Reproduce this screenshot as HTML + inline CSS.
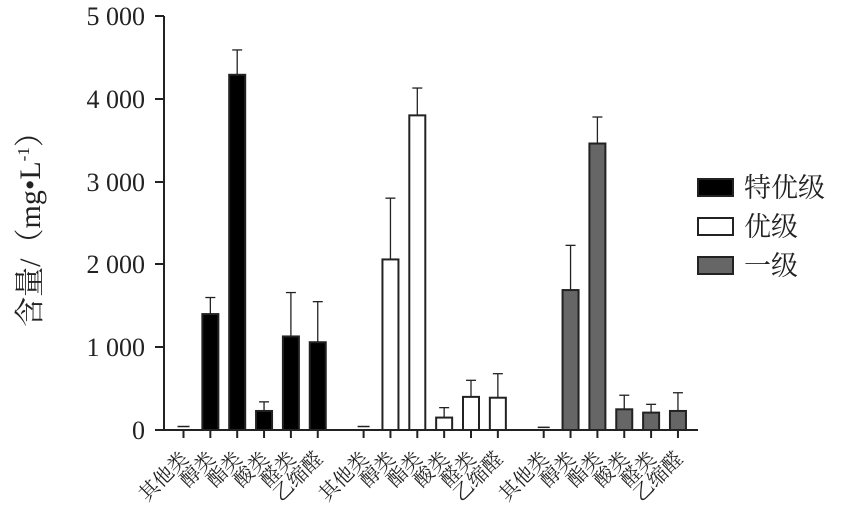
<!DOCTYPE html>
<html><head><meta charset="utf-8"><style>
body{margin:0;background:#fff}
svg{display:block}
text{font-family:"Liberation Serif","Noto Serif CJK SC",serif;fill:#222}
</style></head><body>
<svg id="s" width="847" height="514" viewBox="0 0 847 514" xmlns="http://www.w3.org/2000/svg">
<g stroke="#222" stroke-width="2" fill="none">
<line x1="164" y1="16" x2="164" y2="431"/>
<line x1="163" y1="430" x2="698" y2="430"/>
<line x1="155" y1="16" x2="164" y2="16"/>
<line x1="155" y1="99" x2="164" y2="99"/>
<line x1="155" y1="182" x2="164" y2="182"/>
<line x1="155" y1="264" x2="164" y2="264"/>
<line x1="155" y1="347" x2="164" y2="347"/>
<line x1="155" y1="430" x2="164" y2="430"/>
</g>
<g font-size="26" text-anchor="end">
<text x="145" y="25">5 000</text>
<text x="145" y="108">4 000</text>
<text x="145" y="191">3 000</text>
<text x="145" y="273">2 000</text>
<text x="145" y="356">1 000</text>
<text x="145" y="439">0</text>
</g>
<text transform="translate(40,222) rotate(-90)" font-size="30" text-anchor="middle">含量/（mg•L<tspan font-size="17" dy="-11">-1</tspan><tspan dy="11">）</tspan></text>
<g id="bars"></g>
<g font-size="27">
<rect x="698" y="179" width="35" height="17" fill="#000" stroke="#222" stroke-width="2"/>
<text x="744" y="197">特优级</text>
<rect x="698" y="218" width="35" height="17" fill="#fff" stroke="#222" stroke-width="2"/>
<text x="744" y="236">优级</text>
<rect x="698" y="257" width="35" height="17" fill="#666" stroke="#222" stroke-width="2"/>
<text x="744" y="275">一级</text>
</g>
</svg>
<script>
var g=document.getElementById('bars');
var labels=["其他类","醇类","酯类","酸类","醛类","乙缩醛"];
var groups=[
 {x0:183.5,fill:"#000",v:[30,1400,4290,230,1130,1060],e:[30,1600,4590,340,1660,1550]},
 {x0:363.6,fill:"#fff",v:[30,2060,3800,150,400,390],e:[30,2800,4130,270,600,680]},
 {x0:543.7,fill:"#666",v:[20,1690,3460,250,210,230],e:[20,2230,3780,420,310,450]}];
function y(v){return 430-v*0.0828;}
var h="";
groups.forEach(function(G){
 for(var i=0;i<6;i++){
  var x=G.x0+i*26.85,yt=y(G.v[i]),ye=y(G.e[i]);
  if(G.v[i]>50){
   h+='<line x1="'+x+'" y1="'+ye+'" x2="'+x+'" y2="'+yt+'" stroke="#222" stroke-width="1.3"/>';
   h+='<line x1="'+(x-5)+'" y1="'+ye+'" x2="'+(x+5)+'" y2="'+ye+'" stroke="#222" stroke-width="1.3"/>';
   h+='<rect x="'+(x-8)+'" y="'+yt+'" width="16" height="'+(430-yt)+'" fill="'+G.fill+'" stroke="#222" stroke-width="2"/>';
  } else {
   h+='<line x1="'+(x-6)+'" y1="'+(yt-1)+'" x2="'+(x+6)+'" y2="'+(yt-1)+'" stroke="#222" stroke-width="1.5"/>';
  }
  h+='<line x1="'+x+'" y1="430" x2="'+x+'" y2="438" stroke="#222" stroke-width="2"/>';
  h+='<text transform="translate('+(x+6)+',460) rotate(-45)" font-size="20" text-anchor="end">'+labels[i]+'</text>';
 }
});
g.innerHTML=h;
</script>
</body></html>
